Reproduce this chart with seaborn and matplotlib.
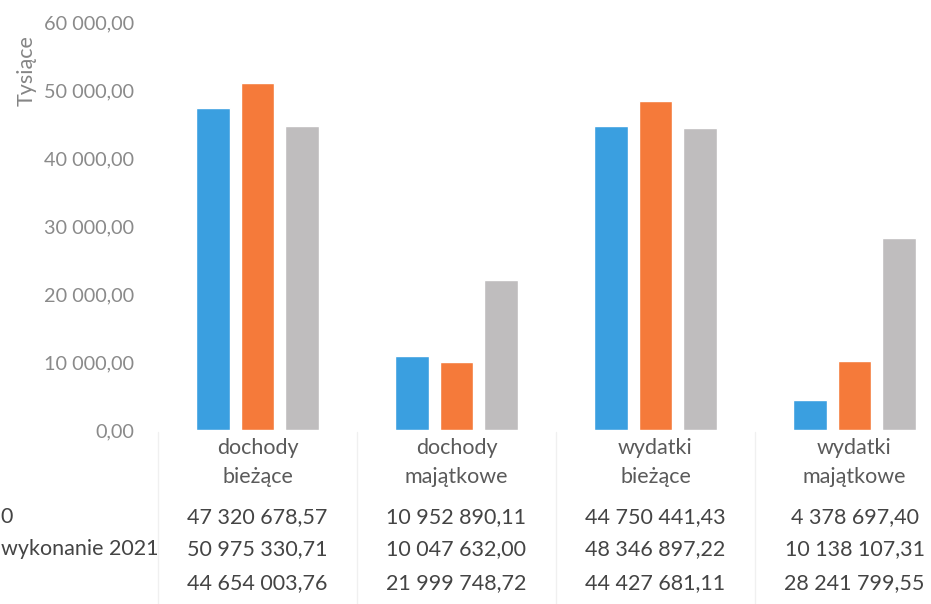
import matplotlib
matplotlib.use("Agg")
import matplotlib.pyplot as plt
import matplotlib.transforms as mtransforms
import seaborn as sns
import pandas as pd

categories = ["dochody\nbieżące", "dochody\nmajątkowe", "wydatki\nbieżące", "wydatki\nmajątkowe"]
series = ["seria 1", "wykonanie 2021", "seria 3"]
row_labels_visible = ["0", "wykonanie 2021", ""]
values_s1 = [47320678.57, 10952890.11, 44750441.43, 4378697.40]
values_s2 = [50975330.71, 10047632.00, 48346897.22, 10138107.31]
values_s3 = [44654003.76, 21999748.72, 44427681.11, 28241799.55]
yticks = [0, 10000, 20000, 30000, 40000, 50000, 60000]
colors = ["#3A9FE0", "#F57A3A", "#BFBDBE"]

sns.set_theme(style="white")
plt.rcParams['font.family'] = ['Lato', 'DejaVu Sans']

FS = 15.5
W, H = 931, 604
fig = plt.figure(figsize=(W / 100, H / 100), dpi=100)

def fy(py):
    return 1 - py / H

ax_left, ax_right, ax_top, ax_bottom = 158, 954, 22, 430
ax = fig.add_axes([ax_left / W, fy(ax_bottom), (ax_right - ax_left) / W, (ax_bottom - ax_top) / H])

rows = []
for s, vals in zip(series, [values_s1, values_s2, values_s3]):
    for c, v in zip(categories, vals):
        rows.append({"kategoria": c, "seria": s, "wartosc": v / 1000.0})
df = pd.DataFrame(rows)

sns.barplot(data=df, x="kategoria", y="wartosc", hue="seria", palette=colors,
            width=0.67, gap=0.24, legend=False, ax=ax, saturation=1)

ax.set_xlim(-0.5, len(categories) - 0.5)
ax.set_ylim(0, 60000)
ax.set_yticks(yticks)
ax.set_yticklabels([f"{t:,.2f}".replace(",", " ").replace(".", ",") for t in yticks],
                   fontsize=14.3, color="#8A8A8A")
ax.tick_params(axis="y", length=0, pad=17)
ax.tick_params(axis="x", length=0, pad=6)
for lbl in ax.get_xticklabels():
    lbl.set_fontsize(FS)
    lbl.set_color("#5A5A5A")
    lbl.set_linespacing(1.55)
ax.set_xlabel("")
ax.set_ylabel("")
for sp in ax.spines.values():
    sp.set_visible(False)
ax.grid(False)

fig.text(27 / W, fy(71), "Tysiące", rotation=90, ha="center", va="center",
         fontsize=FS, color="#858585")

# data table
trans = mtransforms.blended_transform_factory(ax.transData, fig.transFigure)
row_y = [517, 549, 583]
for vals, py in zip([values_s1, values_s2, values_s3], row_y):
    for i, v in enumerate(vals):
        txt = f"{v:,.2f}".replace(",", " ").replace(".", ",")
        ax.text(i, fy(py), txt, transform=trans, ha="center", va="center",
                fontsize=FS, color="#444444", clip_on=False)

fig.text(0 / W, fy(row_y[0]), row_labels_visible[0], ha="left", va="center",
         fontsize=FS, color="#444444")
fig.text(1 / W, fy(row_y[1]), row_labels_visible[1], ha="left", va="center",
         fontsize=FS, color="#444444")

# faint table grid lines
for i in range(len(categories) + 1):
    ax.plot([i - 0.5, i - 0.5], [fy(432), fy(604)], transform=trans,
            color="#F0F0F0", lw=1, clip_on=False)

fig.savefig("out.png", dpi=100, facecolor="white")
